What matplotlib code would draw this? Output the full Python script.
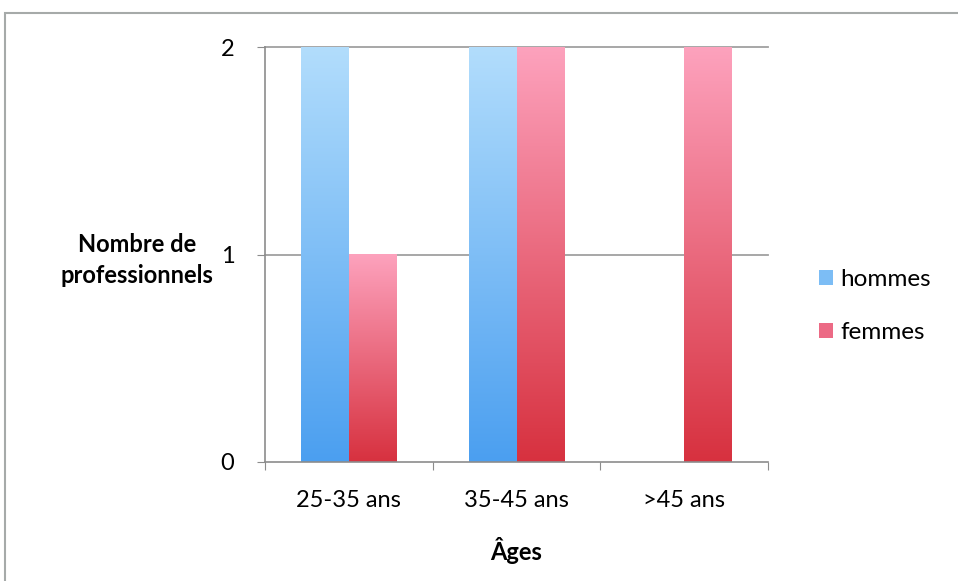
import matplotlib
matplotlib.use("Agg")
import matplotlib.pyplot as plt
import numpy as np
from matplotlib.colors import LinearSegmentedColormap
from matplotlib.patches import Rectangle, Patch

categories = ["25-35 ans", "35-45 ans", ">45 ans"]
hommes = [2, 2, 0]
femmes = [1, 2, 2]
series_names = ["hommes", "femmes"]
y_ticks = [0, 1, 2]

plt.rcParams['font.family'] = ['Lato', 'DejaVu Sans']

W, H = 958, 581
fig = plt.figure(figsize=(W / 100, H / 100), dpi=100)
fig.patch.set_facecolor('white')

# outer frame
fig.patches.append(Rectangle((5 / W, -0.05), 1.2, 1 - 13 / H + 0.05, transform=fig.transFigure,
                             fill=False, edgecolor='#a6aaa9', linewidth=1.5))

ax = fig.add_axes([265 / W, 1 - 462 / H, (768 - 265) / W, (462 - 47) / H])
ax.set_facecolor('none')

x = np.arange(len(categories))
bw = 1 / 3.5
cm_blue = LinearSegmentedColormap.from_list('b', ['#4b9ff0', '#b2ddfc'])
cm_pink = LinearSegmentedColormap.from_list('p', ['#d7313f', '#fda2bd'])

grad = np.linspace(0, 1, 256).reshape(-1, 1)
for vals, offs, cmap in [(hommes, -bw / 2, cm_blue), (femmes, bw / 2, cm_pink)]:
    bars = ax.bar(x + offs, vals, width=bw, color='none', edgecolor='none')
    for b in bars:
        h = b.get_height()
        if h <= 0:
            continue
        x0 = b.get_x()
        ax.imshow(grad, cmap=cmap, origin='lower', aspect='auto',
                  extent=[x0, x0 + b.get_width(), 0, h], zorder=2)

ax.set_xlim(-0.5, 2.5)
ax.set_ylim(0, 2)
ax.set_yticks(y_ticks)
ax.set_yticklabels([str(t) for t in y_ticks], fontsize=17)
ax.set_xticks([-0.5, 0.5, 1.5, 2.5])
ax.set_xticklabels([])
ax.set_xticks(x, minor=True)
ax.set_xticklabels(categories, minor=True, fontsize=17)
ax.tick_params(axis='x', which='minor', length=0, pad=20)
ax.tick_params(axis='x', which='major', length=6, color='#8c8c8c', direction='out')
ax.tick_params(axis='y', length=6, color='#8c8c8c', direction='out', pad=16)

for yv in y_ticks[1:]:
    ax.axhline(yv, color='#a0a0a0', linewidth=1.3, zorder=1, clip_on=False)
for s in ['top', 'right']:
    ax.spines[s].set_visible(False)
for s in ['left', 'bottom']:
    ax.spines[s].set_color('#8c8c8c')
    ax.spines[s].set_linewidth(1.2)

ax.set_xlabel("Âges", fontsize=17, fontweight='bold', labelpad=19)
fig.text(137 / W, 1 - 260 / H, "Nombre de\nprofessionnels", ha='center', va='center',
         fontsize=17, fontweight='bold', linespacing=1.4)

handles = [Patch(facecolor='#7cbdf5', edgecolor='none'), Patch(facecolor='#ec6a85', edgecolor='none')]
fig.legend(handles, series_names, loc='center left', bbox_to_anchor=(797 / W, 1 - 306 / H),
           frameon=False, fontsize=17.5, handlelength=0.6, handleheight=0.6, handletextpad=0.3,
           labelspacing=1.3)

fig.savefig("out.png", dpi=100)
